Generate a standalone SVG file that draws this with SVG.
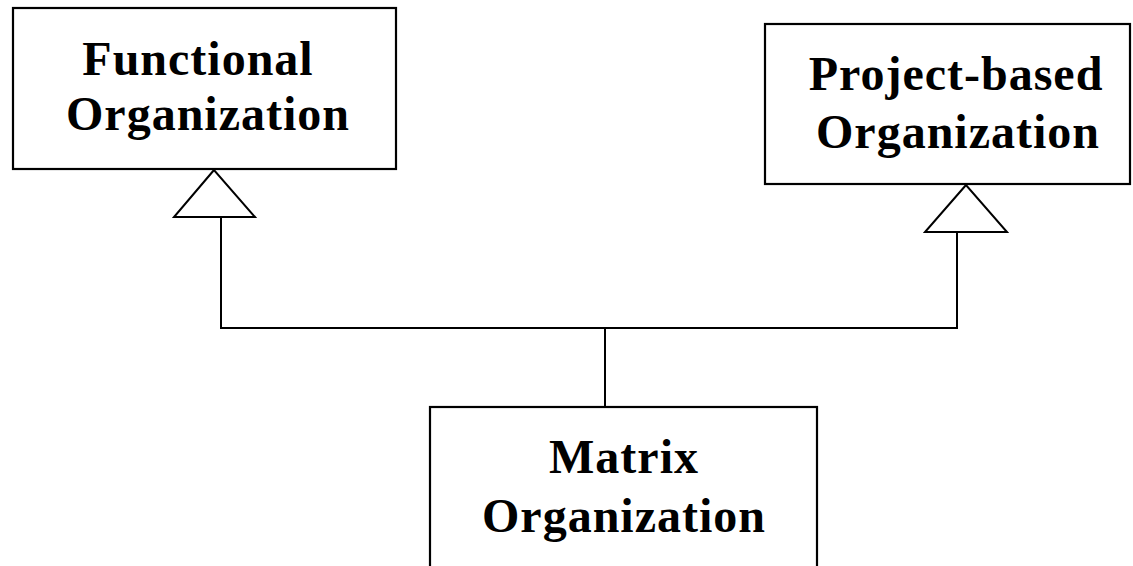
<svg xmlns="http://www.w3.org/2000/svg" width="1133" height="566" viewBox="0 0 1133 566">
  <style>
    .box { fill: #ffffff; stroke: #000000; stroke-width: 2.2; }
    .lbl { font-family: "Liberation Serif", "Times New Roman", serif; font-weight: bold; font-size: 48px; letter-spacing: 1px; fill: #000000; text-anchor: middle; }
    .wire { fill: none; stroke: #000000; stroke-width: 2; }
    .head { fill: #ffffff; stroke: #000000; stroke-width: 2; stroke-linejoin: miter; }
  </style>
  <rect width="1133" height="566" fill="#ffffff"/>

  <g id="connectors">
    <polyline class="wire" points="221,217 221,328 957,328 957,232"/>
    <line class="wire" x1="605" y1="328" x2="605" y2="406"/>
    <polygon class="head" points="214,170 174,217 255,217"/>
    <polygon class="head" points="966,185 925,232 1007,232"/>
  </g>

  <g id="functional">
    <rect class="box" x="13" y="8" width="383" height="161"/>
    <text class="lbl" x="198" y="75">Functional</text>
    <text class="lbl" x="208" y="130">Organization</text>
  </g>

  <g id="project-based">
    <rect class="box" x="765" y="24" width="365" height="160"/>
    <text class="lbl" x="956" y="90">Project-based</text>
    <text class="lbl" x="958" y="148">Organization</text>
  </g>

  <g id="matrix">
    <rect class="box" x="430" y="407" width="387" height="170"/>
    <text class="lbl" x="624" y="473">Matrix</text>
    <text class="lbl" x="624" y="532">Organization</text>
  </g>
</svg>
